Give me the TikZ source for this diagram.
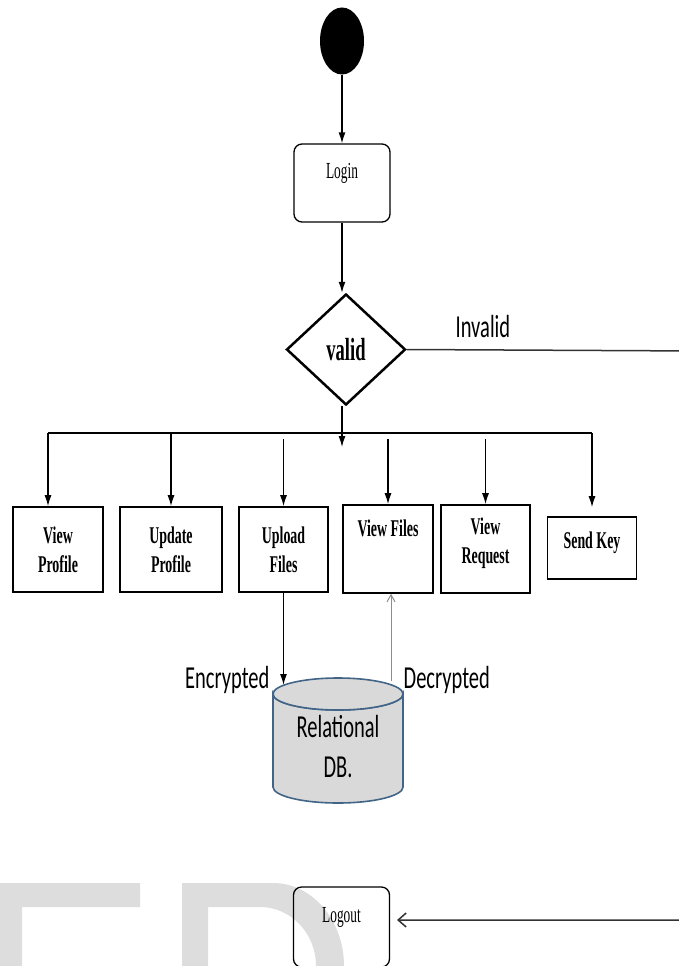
\documentclass[tikz,border=0pt]{standalone}
\usepackage{fontspec}
\setmainfont{Liberation Serif}[FakeStretch=0.58]
\newfontfamily\calfont{Carlito}[FakeStretch=0.64]
\usetikzlibrary{shapes.geometric,arrows.meta}

\definecolor{wmgray}{RGB}{221,221,221}
\definecolor{dbfill}{RGB}{217,217,217}
\definecolor{dbline}{RGB}{65,100,135}
\definecolor{barbgray}{RGB}{140,140,140}

\tikzset{every picture/.style={line width=1.3pt}}
\tikzset{
  flow/.style={-{Latex[length=11pt,width=7pt]}, line width=1.3pt},
  actbox/.style={draw, rounded corners=8pt, line width=1.3pt, minimum width=96pt, minimum height=78pt, inner sep=0pt},
  taskbox/.style={draw, line width=1.6pt, minimum width=89pt, minimum height=85pt, inner sep=0pt, align=center, font={\fontsize{24}{29}\selectfont\bfseries}},
  tasktxt/.style={inner sep=0pt, align=center, font={\fontsize{24}{29}\selectfont\bfseries}},
  plaintxt/.style={inner sep=0pt, font={\fontsize{23}{26}\selectfont}},
  sidetxt/.style={inner sep=0pt, font={\calfont\fontsize{32}{40}\selectfont}},
}

\begin{document}
\begin{tikzpicture}[x=1pt,y=1pt,yscale=-1,xscale=1]
\useasboundingbox (0,0) rectangle (678,966);

% Watermark
\fill[wmgray] (0,883) -- (140,883) -- (140,907) -- (22,907) -- (22,966) -- (0,966) -- cycle;
\fill[wmgray] (182,883) -- (273,883) arc (270:360:71 and 83) -- (316,966) arc (360:270:56 and 59) -- (208,907) -- (208,966) -- (182,966) -- cycle;

% Start
\node (start) [ellipse, fill=black, minimum width=44pt, minimum height=67pt, inner sep=0pt] at (342,41) {};

% Login
\node (login) [actbox] at (342,183) {};
\node (logintxt) [plaintxt] at (342,173) {Login};

% Decision
\node (valid) [diamond, draw, line width=2.5pt, aspect=1.07, minimum width=119pt, minimum height=111pt, inner sep=0pt, font={\fontsize{32}{34}\selectfont\bfseries}] at (346,349.5) {valid};

% Tasks
\node (vprof) [taskbox, minimum width=90pt] at (58,549.5) {View\\Profile};
\node (uprof) [taskbox, minimum width=102pt] at (171,549.5) {Update\\Profile};
\node (upload) [taskbox] at (283.5,549.5) {Upload\\Files};
\node (vfiles) [taskbox, minimum width=90pt, minimum height=88pt] at (388,549) {};
\node (vfilestxt) [tasktxt] at (388,528) {View Files};
\node (vreq) [taskbox, minimum height=88pt] at (485.5,549) {};
\node (vreqtxt) [tasktxt] at (485.5,543) {View\\Request};
\node (skey) [taskbox, minimum height=62pt] at (592,548) {};
\node (skeytxt) [tasktxt] at (592,543) {Send Key};

% Database
\filldraw[fill=dbfill, draw=dbline, line width=1.6pt] (273,694) -- (273,787) arc (180:0:65 and 16) -- (403,694) arc (0:180:65 and 16) -- cycle;
\filldraw[fill=dbfill, draw=dbline, line width=1.6pt] (338,694) ellipse (65 and 16);
\node (dbtxt) [sidetxt, align=center] at (338,747) {Relational\\DB.};

% Logout
\node (logout) [actbox, minimum height=80pt] at (341.5,927) {};
\node (logouttxt) [plaintxt] at (341.5,917) {Logout};

% Coordinates
\coordinate (hub) at (342,447);
\coordinate (busL) at (48,433);
\coordinate (busR) at (592,433);
\coordinate (busLow) at (0,439);
\coordinate (dbIn) at (283.5,685);
\coordinate (dbOut) at (391,681);
\coordinate (logoutIn) at (397,920);

%Straight Lines
\draw[flow] (start.south) -- (login.north);
\draw[flow] (login.south) -- (login.south |- valid.north);
\draw[flow] (valid.south -| hub) -- (hub);
\draw[line width=1.5pt] (busL) -- (busR);
\draw[flow] (busL) -- (busL |- vprof.north);
\draw[flow] (uprof.north |- busL) -- (uprof.north);
\draw[flow] (upload.north |- busLow) -- (upload.north);
\draw[flow] (vfiles.north |- busLow) -- (vfiles.north);
\draw[flow] (vreq.north |- busLow) -- (vreq.north);
\draw[flow] (busR) -- ([yshift=-9pt]skey.north);
\draw[flow] (upload.south) -- (dbIn);
\draw[barbgray, line width=1pt, -{Straight Barb[length=7pt,width=8pt]}] (dbOut) -- (dbOut |- vfiles.south);
\draw[black!80, line width=1.5pt, -{Straight Barb[length=8pt,width=14pt]}] (valid.east) -- (700,351) |- (logoutIn);

% Text Node
\node (inv) [sidetxt, anchor=base west] at (455,337) {Invalid};
\node (enc) [sidetxt, anchor=base east] at (270,688) {Encrypted};
\node (dec) [sidetxt, anchor=base west] at (403,688) {Decrypted};

\end{tikzpicture}
\end{document}
